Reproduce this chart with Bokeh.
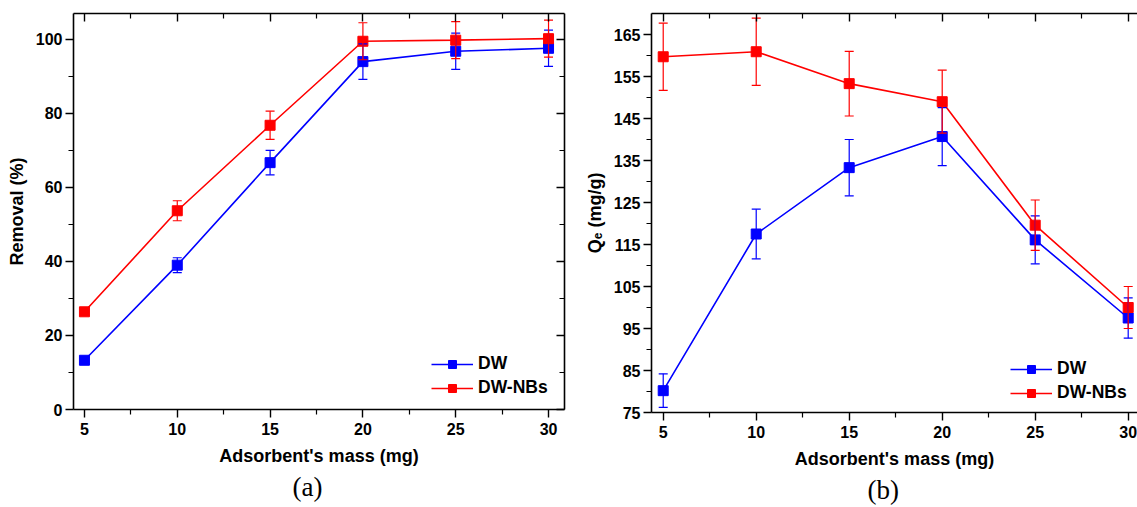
from bokeh.plotting import figure
from bokeh.models import (Range1d, FixedTicker, LinearAxis, Legend, LegendItem,
                          Whisker, TeeHead, ColumnDataSource, Title)
from bokeh.layouts import row
from bokeh.embed import file_html
from bokeh.resources import INLINE

# ---- data ----
mass = [5, 10, 15, 20, 25, 30]
x_ticks = [5, 10, 15, 20, 25, 30]
x_minor = [7.5, 12.5, 17.5, 22.5, 27.5]

removal_dw = [13.3, 39.0, 66.7, 94.0, 96.8, 97.6]
removal_dw_err = [0.6, 2.0, 3.3, 4.8, 4.9, 4.9]
removal_nbs = [26.4, 53.7, 76.8, 99.5, 99.8, 100.2]
removal_nbs_err = [0.8, 2.7, 3.8, 5.0, 5.0, 5.0]
removal_ticks = [0, 20, 40, 60, 80, 100]
removal_minor = [10, 30, 50, 70, 90]

qe_dw = [80.2, 117.5, 133.3, 140.7, 116.1, 97.5]
qe_dw_err = [4.0, 5.9, 6.7, 6.9, 5.7, 4.8]
qe_nbs = [159.7, 160.9, 153.3, 149.0, 119.6, 100.0]
qe_nbs_err = [8.0, 8.0, 7.7, 7.5, 6.0, 5.0]
qe_ticks = [75, 85, 95, 105, 115, 125, 135, 145, 155, 165]
qe_minor = [80, 90, 100, 110, 120, 130, 140, 150, 160]

series_names = ["DW", "DW-NBs"]
series_colors = ["#0000FF", "#FF0000"]

FONT = "Liberation Sans"
SERIF = "Liberation Serif"


def style_axis(ax, labels=True, outward=True):
    ax.axis_line_color = "black"
    ax.axis_line_width = 1.6
    ax.major_tick_line_color = "black"
    ax.minor_tick_line_color = "black"
    ax.major_tick_line_width = 1.4
    ax.minor_tick_line_width = 1.2
    if outward:
        ax.major_tick_out, ax.major_tick_in = 8, 0
        ax.minor_tick_out, ax.minor_tick_in = 5, 0
    else:
        ax.major_tick_out, ax.major_tick_in = 0, 8
        ax.minor_tick_out, ax.minor_tick_in = 0, 5
    if labels:
        ax.major_label_text_font = FONT
        ax.major_label_text_font_style = "bold"
        ax.major_label_text_font_size = "16px"
        ax.major_label_text_color = "black"
        ax.major_label_standoff = 3
        ax.axis_label_text_font = FONT
        ax.axis_label_text_font_style = "bold"
        ax.axis_label_text_font_size = "18px"
        ax.axis_label_text_color = "black"
        ax.axis_label_standoff = 5
    else:
        ax.major_label_text_font_size = "0px"
        ax.major_label_text_color = None
        ax.major_label_standoff = 0
        ax.axis_label = None


def panel(frame_w, frame_h, bl, br, bb, x_range, y_range, yt, ym, ylabel,
          dw, dwe, nbs, nbse, leg_loc, tag, tag_off, right_axis):
    p = figure(frame_width=frame_w, frame_height=frame_h,
               min_border_left=bl, min_border_right=br, min_border_top=13,
               min_border_bottom=bb, x_range=Range1d(*x_range),
               y_range=Range1d(*y_range), output_backend="svg",
               toolbar_location=None, tools="")
    p.outline_line_color = None
    p.xgrid.visible = False
    p.ygrid.visible = False
    p.background_fill_color = "white"
    p.border_fill_color = "white"

    p.xaxis.ticker = FixedTicker(ticks=x_ticks, minor_ticks=x_minor)
    p.yaxis.ticker = FixedTicker(ticks=yt, minor_ticks=ym)
    p.xaxis.axis_label = "Adsorbent's mass (mg)"
    p.yaxis.axis_label = ylabel
    style_axis(p.xaxis[0])
    style_axis(p.yaxis[0])
    p.xaxis.major_label_standoff = 5
    p.xaxis.axis_label_standoff = 8
    p.yaxis.axis_label_standoff = 6

    top = LinearAxis(ticker=FixedTicker(ticks=x_ticks, minor_ticks=x_minor))
    style_axis(top, labels=False, outward=False)
    p.add_layout(top, "above")
    if right_axis:
        rax = LinearAxis(ticker=FixedTicker(ticks=yt, minor_ticks=ym))
        style_axis(rax, labels=False, outward=False)
        p.add_layout(rax, "right")

    items = []
    for name, col, vals, errs in zip(series_names, series_colors, [dw, nbs], [dwe, nbse]):
        src = ColumnDataSource(dict(x=mass, y=vals,
                                    lo=[v - e for v, e in zip(vals, errs)],
                                    hi=[v + e for v, e in zip(vals, errs)]))
        w = Whisker(base="x", upper="hi", lower="lo", source=src,
                    line_color=col, line_width=1.2, level="glyph",
                    upper_head=TeeHead(size=9, line_color=col, line_width=1.2),
                    lower_head=TeeHead(size=9, line_color=col, line_width=1.2))
        p.add_layout(w)
        lr = p.line("x", "y", source=src, line_color=col, line_width=1.6)
        mr = p.scatter("x", "y", source=src, marker="square", size=10,
                       fill_color=col, line_color=col)
        items.append(LegendItem(label=name, renderers=[lr, mr]))

    leg = Legend(items=items, location=leg_loc, border_line_color=None,
                 background_fill_alpha=0, label_text_font=FONT,
                 label_text_font_style="bold", label_text_font_size="17.5px",
                 label_text_color="black", glyph_width=42, glyph_height=20,
                 label_height=20, label_standoff=5, spacing=3, padding=0,
                 margin=0)
    p.add_layout(leg)

    t = Title(text=tag, align="left", offset=tag_off, text_font=SERIF,
              text_font_style="normal", text_font_size="27px",
              text_color="black", standoff=2)
    p.add_layout(t, "below")
    return p


pa = panel(491, 396, 73, 11, 98, (4.41, 30.86), (0, 107), removal_ticks,
           removal_minor, "Removal (%)", removal_dw, removal_dw_err,
           removal_nbs, removal_nbs_err, (358, 11), "(a)", 219, True)
pb = panel(486, 399, 76, 0, 95, (4.37, 30.5), (75, 170), qe_ticks, qe_minor,
           "Q\u2091 (mg/g)", qe_dw, qe_dw_err, qe_nbs, qe_nbs_err, (359, 9),
           "(b)", 216, False)

layout = row(pa, pb, spacing=0)
open("out.html", "w").write(file_html(layout, INLINE))
